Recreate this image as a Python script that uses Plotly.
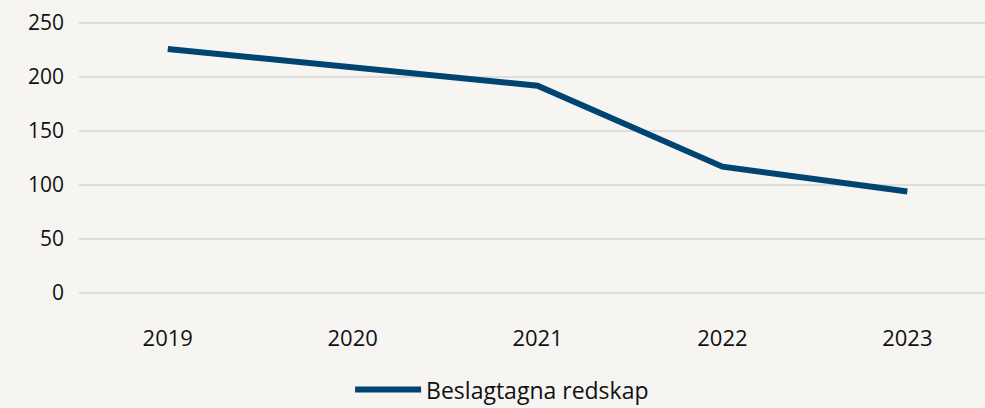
import plotly.graph_objects as go

years = ["2019", "2020", "2021", "2022", "2023"]
seized_gear = [226, 209, 192, 117, 94]
series_name = "Beslagtagna redskap"
y_ticks = [0, 50, 100, 150, 200, 250]

BG = "#F6F5F2"
LINE = "#004571"
FONT = "Open Sans"

fig = go.Figure()
fig.add_trace(go.Scatter(
    x=years, y=seized_gear, mode="lines", name=series_name,
    line=dict(color=LINE, width=6),
))

fig.update_layout(
    width=985, height=408,
    paper_bgcolor=BG, plot_bgcolor=BG,
    margin=dict(l=79, r=0, t=20, b=112, autoexpand=False),
    font=dict(family=FONT, size=21, color="#111111"),
    showlegend=True,
    legend=dict(orientation="h", x=0.467, xanchor="center",
                yref="container", y=0.045, yanchor="middle",
                font=dict(size=23), itemwidth=66, bgcolor="rgba(0,0,0,0)"),
    xaxis=dict(type="category", range=[-0.48, 4.42], showgrid=False, showline=False,
               zeroline=False, ticks="", ticklabelstandoff=27, automargin=False,
               tickfont=dict(size=22)),
    yaxis=dict(range=[-2.78, 252.78], tickvals=y_ticks, showgrid=True, gridcolor="#DEDDDA",
               gridwidth=1.5, zeroline=False, showline=False, ticks="", automargin=False,
               ticklabelstandoff=14, tickfont=dict(size=21)),
)

fig.write_html(
    "out.html",
    config={"displayModeBar": False},
    post_script="document.body.style.margin='0';document.body.style.background='#F6F5F2';",
)
